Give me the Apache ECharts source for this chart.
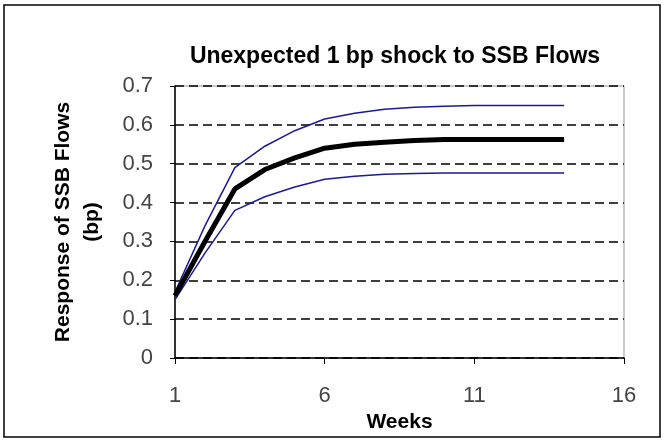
<!DOCTYPE html>
<html>
<head>
<meta charset="utf-8">
<script src="https://cdn.jsdelivr.net/npm/echarts@6/dist/echarts.min.js"></script>
<style>
  html, body { margin: 0; padding: 0; background: #fff; }
  #chart { width: 665px; height: 442px; }
</style>
</head>
<body>
<div id="chart"></div>
<script>
// weeks after the shock
const weeks = [1, 2, 3, 4, 5, 6, 7, 8, 9, 10, 11, 12, 13, 14]
// response and its upper / lower bands (bp)
const response = [0.16, 0.30, 0.435, 0.485, 0.515, 0.54, 0.55, 0.555, 0.56, 0.562, 0.562, 0.562, 0.562, 0.562]
const upperBand = [0.17, 0.34, 0.49, 0.545, 0.585, 0.615, 0.63, 0.64, 0.645, 0.648, 0.65, 0.65, 0.65, 0.65]
const lowerBand = [0.15, 0.27, 0.38, 0.415, 0.44, 0.46, 0.468, 0.473, 0.475, 0.476, 0.476, 0.476, 0.476, 0.476]
const xTicks = [1, 6, 11, 16]

const chart = echarts.init(document.getElementById('chart'))

const toPairs = (vals) => weeks.map((w, i) => [w, vals[i]])

const option = {
  animation: false,
  textStyle: { fontFamily: 'Liberation Sans' },
  title: {
    text: 'Unexpected 1 bp shock to SSB Flows',
    left: 390,
    top: 40,
    textAlign: 'center',
    textStyle: { fontSize: 23, fontWeight: 'bold', color: '#000' }
  },
  graphic: [
    {
      type: 'rect',
      shape: { x: 4, y: 5, width: 656, height: 432 },
      style: { fill: 'none', stroke: '#000', lineWidth: 1.5 },
      z: 0
    }
  ],
  grid: {
    left: 175,
    right: 41,
    top: 86,
    bottom: 84,
    show: true,
    borderColor: '#999',
    borderWidth: 1
  },
  xAxis: {
    type: 'value',
    min: 1,
    max: 16,
    interval: 5,
    name: 'Weeks',
    nameLocation: 'middle',
    nameGap: 46,
    nameTextStyle: { fontSize: 21, fontWeight: 'bold', color: '#000' },
    axisLine: { lineStyle: { color: '#000', width: 1.5 } },
    axisTick: { show: true, length: 6, lineStyle: { color: '#000' } },
    axisLabel: {
      fontSize: 22,
      color: '#444',
      margin: 27,
      customValues: xTicks
    },
    splitLine: { show: false }
  },
  yAxis: {
    type: 'value',
    min: 0,
    max: 0.7,
    interval: 0.1,
    name: 'Response of SSB Flows\n(bp)',
    nameLocation: 'middle',
    nameGap: 68,
    nameRotate: 90,
    nameTextStyle: { fontSize: 21, fontWeight: 'bold', color: '#000', lineHeight: 29 },
    axisLine: { show: true, lineStyle: { color: '#000', width: 1.5 } },
    axisTick: { show: true, length: 5, lineStyle: { color: '#000' } },
    axisLabel: {
      fontSize: 22,
      color: '#444',
      margin: 22,
      formatter: (v) => (v === 0 ? '0' : v.toFixed(1))
    },
    splitLine: {
      show: true,
      lineStyle: { color: '#000', type: [9, 5], width: 1.5 }
    }
  },
  series: [
    {
      name: 'Upper',
      type: 'line',
      data: toPairs(upperBand),
      symbol: 'none',
      lineStyle: { color: '#1a1a9a', width: 1.5 }
    },
    {
      name: 'Lower',
      type: 'line',
      data: toPairs(lowerBand),
      symbol: 'none',
      lineStyle: { color: '#1a1a9a', width: 1.5 }
    },
    {
      name: 'Response',
      type: 'line',
      data: toPairs(response),
      symbol: 'none',
      lineStyle: { color: '#000', width: 5 }
    }
  ]
}

chart.setOption(option)
</script>
</body>
</html>
